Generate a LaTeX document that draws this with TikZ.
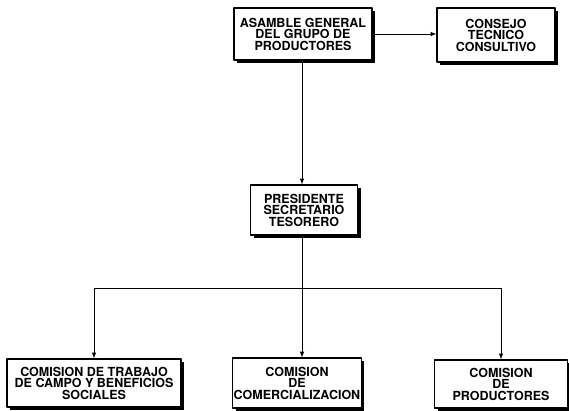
\documentclass[tikz,border=0pt]{standalone}
\usepackage{fontspec}
\setmainfont{TeX Gyre Heros}
\usetikzlibrary{shadows}
\begin{document}
\begin{tikzpicture}[x=1pt,y=-1pt,>=latex, line join=round, font=\bfseries\fontsize{12.5}{11.5}\selectfont]
	\tikzset{caja/.style={draw, line width=1.2pt, fill=white, align=center, inner sep=1pt,
			drop shadow={shadow xshift=3pt, shadow yshift=-3pt, fill=black, opacity=1}},
		flecha/.style={line width=1pt}}
	\useasboundingbox (0,0) rectangle (569,410);
	% Niveles
	\node[caja, minimum width=138pt, minimum height=52pt] (asamble) at (303,34) {ASAMBLE GENERAL\\DEL GRUPO DE\\PRODUCTORES};
	\node[caja, minimum width=118pt, minimum height=54pt] (consejo) at (496,35) {CONSEJO\\TECNICO\\CONSULTIVO};
	\node[caja, minimum width=107pt, minimum height=50pt] (presidente) at (304,210) {PRESIDENTE\\SECRETARIO\\TESORERO};
	\node[caja, minimum width=174pt, minimum height=48pt] (trabajo) at (94,383) {COMISION DE TRABAJO\\DE CAMPO Y BENEFICIOS\\SOCIALES};
	\node[caja, minimum width=125pt, minimum height=50pt] (comercial) at (297,383) {COMISION\\DE\\COMERCIALIZACION};
	\node[caja, minimum width=133pt, minimum height=48pt] (productores) at (501,384) {COMISION\\DE\\PRODUCTORES};
	\coordinate (reparto) at (302,288);
	% Conectores
	\draw[flecha,->] (asamble.east) -- (asamble.east -| consejo.west);
	\draw[flecha,->] (asamble.south -| reparto) -- (presidente.north -| reparto);
	\draw[flecha] (presidente.south -| reparto) -- (reparto);
	\draw[flecha,->] (reparto) -| (trabajo.north);
	\draw[flecha,->] (reparto) -- (reparto |- comercial.north);
	\draw[flecha,->] (reparto) -| (productores.north);
\end{tikzpicture}
\end{document}
